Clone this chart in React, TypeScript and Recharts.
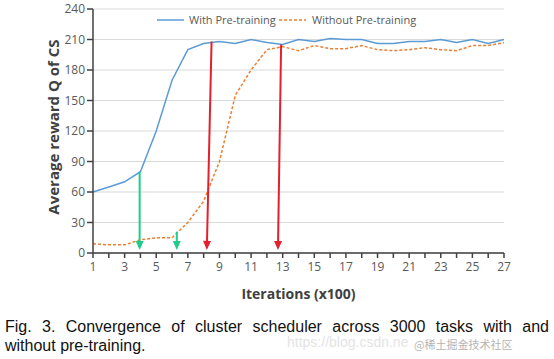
import {
  CartesianGrid,
  Label,
  Line,
  LineChart,
  ReferenceLine,
  XAxis,
  YAxis,
} from "recharts";

const iterations = [
  1, 2, 3, 4, 5, 6, 7, 8, 9, 10, 11, 12, 13, 14, 15, 16, 17, 18, 19, 20, 21,
  22, 23, 24, 25, 26, 27,
];
const withPre = [
  60, 65, 70, 80, 120, 170, 200, 206, 208, 206, 210, 207, 205, 210, 208, 211,
  210, 210, 206, 206, 208, 208, 210, 207, 210, 206, 210,
];
const withoutPre = [
  9, 8, 8, 13, 15, 15, 30, 51, 90, 155, 180, 200, 203, 199, 204, 201, 201, 204,
  200, 199, 200, 202, 200, 199, 204, 204, 207,
];
const yTicks = [0, 30, 60, 90, 120, 150, 180, 210, 240];

// annotation arrows: x position at top/bottom, top value, bottom value
const arrowXTop = [3.95, 6.3, 8.5, 12.9];
const arrowXBottom = [3.95, 6.3, 8.2, 12.7];
const arrowTop = [80, 21, 208, 205];
const arrowBottom = [3, 3, 3, 3];
const arrowColors = ["#1fcc8c", "#1fcc8c", "#e3202c", "#e3202c"];

const data = iterations.map((iter, i) => ({
  iter,
  withPre: withPre[i],
  withoutPre: withoutPre[i],
}));

const tickFont = "'Open Sans', 'Liberation Sans', sans-serif";

function Arrow(props: any) {
  const { x1, y1, x2, y2, color } = props;
  const dx = x2 - x1;
  const dy = y2 - y1;
  const len = Math.sqrt(dx * dx + dy * dy) || 1;
  const ux = dx / len;
  const uy = dy / len;
  const head = 9;
  const half = 4;
  const bx = x2 - ux * head;
  const by = y2 - uy * head;
  return (
    <g>
      <line x1={x1} y1={y1} x2={bx} y2={by} stroke={color} strokeWidth={2} />
      <polygon
        points={`${x2},${y2} ${bx - uy * half},${by + ux * half} ${bx + uy * half},${by - ux * half}`}
        fill={color}
      />
    </g>
  );
}

const legendText = {
  position: "absolute" as const,
  top: 12,
  fontFamily: tickFont,
  fontSize: 11,
  lineHeight: "15px",
  color: "#595959",
  whiteSpace: "nowrap" as const,
};

function LegendBox() {
  return (
    <>
      <svg
        width={28}
        height={4}
        style={{ position: "absolute", left: 157, top: 18 }}
      >
        <line x1={0} y1={2} x2={27} y2={2} stroke="#5b9bd5" strokeWidth={1.5} />
      </svg>
      <span style={{ ...legendText, left: 189 }}>With Pre-training</span>
      <svg
        width={28}
        height={4}
        style={{ position: "absolute", left: 279, top: 18 }}
      >
        <line
          x1={0}
          y1={2}
          x2={27}
          y2={2}
          stroke="#ed7d31"
          strokeWidth={1.5}
          strokeDasharray="3 2"
        />
      </svg>
      <span style={{ ...legendText, left: 312 }}>Without Pre-training</span>
    </>
  );
}

export default function App() {
  return (
    <div
      style={{
        position: "absolute",
        left: 0,
        top: 0,
        width: 554,
        height: 359,
        background: "#fff",
      }}
    >
      <LineChart
        width={554}
        height={305}
        data={data}
        margin={{ top: 9, right: 50, left: 0, bottom: 2 }}
      >
        <CartesianGrid stroke="#d9d9d9" vertical={false} />
        <XAxis
          dataKey="iter"
          type="number"
          domain={[1, 27]}
          ticks={iterations}
          interval={0}
          height={50}
          tickSize={5}
          tickMargin={4}
          stroke="#404040"
          strokeWidth={1.5}
          tick={{ fontSize: 12, fill: "#595959", fontFamily: tickFont }}
          tickFormatter={(v: number) => (v % 2 === 1 ? String(v) : "")}
        >
          <Label
            value="Iterations (x100)"
            position="insideBottom"
            offset={4}
            style={{
              fontSize: 14,
              fontWeight: "bold",
              fill: "#404040",
              fontFamily: tickFont,
            }}
          />
        </XAxis>
        <YAxis
          type="number"
          domain={[0, 240]}
          ticks={yTicks}
          interval={0}
          width={93}
          tickSize={6}
          tickMargin={2}
          stroke="#404040"
          strokeWidth={1.5}
          tick={{ fontSize: 12, fill: "#595959", fontFamily: tickFont }}
        >
          <Label
            content={(p: any) => {
              const vb = p.viewBox;
              const cx = vb.x + 55;
              const cy = vb.y + vb.height / 2 - 4;
              return (
                <text
                  x={cx}
                  y={cy}
                  transform={`rotate(-90 ${cx} ${cy})`}
                  textAnchor="middle"
                  dominantBaseline="middle"
                  style={{
                    fontSize: 15,
                    fontWeight: "bold",
                    fill: "#404040",
                    fontFamily: tickFont,
                  }}
                >
                  Average reward Q of CS
                </text>
              );
            }}
          />
        </YAxis>
        <Line
          type="linear"
          dataKey="withPre"
          stroke="#5b9bd5"
          strokeWidth={1.5}
          dot={false}
          isAnimationActive={false}
        />
        <Line
          type="linear"
          dataKey="withoutPre"
          stroke="#ed7d31"
          strokeWidth={1.5}
          strokeDasharray="3 2"
          dot={false}
          isAnimationActive={false}
        />
        {arrowTop.map((top, i) => (
          <ReferenceLine
            key={i}
            segment={[
              { x: arrowXTop[i], y: top },
              { x: arrowXBottom[i], y: arrowBottom[i] },
            ]}
            ifOverflow="visible"
            shape={(p: any) => <Arrow {...p} color={arrowColors[i]} />}
          />
        ))}
      </LineChart>
      <LegendBox />
      <div
        style={{
          position: "absolute",
          left: 5,
          top: 317,
          width: 544,
          fontFamily: "'Liberation Sans', Arial, sans-serif",
          fontSize: 16,
          lineHeight: "19px",
          color: "#111",
        }}
      >
        <div style={{ textAlign: "justify", textAlignLast: "justify" }}>
          Fig. 3. Convergence of cluster scheduler across 3000 tasks with and
        </div>
        <div>without pre-training.</div>
      </div>
      <div
        style={{
          position: "absolute",
          left: 287,
          top: 334,
          fontFamily: "'Liberation Sans', Arial, sans-serif",
          fontSize: 14,
          color: "#e4e4e4",
          whiteSpace: "nowrap",
        }}
      >
        https://blog.csdn.ne
      </div>
      <div
        style={{
          position: "absolute",
          left: 414,
          top: 336,
          fontFamily: "'Noto Sans CJK SC', sans-serif",
          fontSize: 11,
          color: "#b4b4b4",
          whiteSpace: "nowrap",
        }}
      >
        @稀土掘金技术社区
      </div>
    </div>
  );
}
